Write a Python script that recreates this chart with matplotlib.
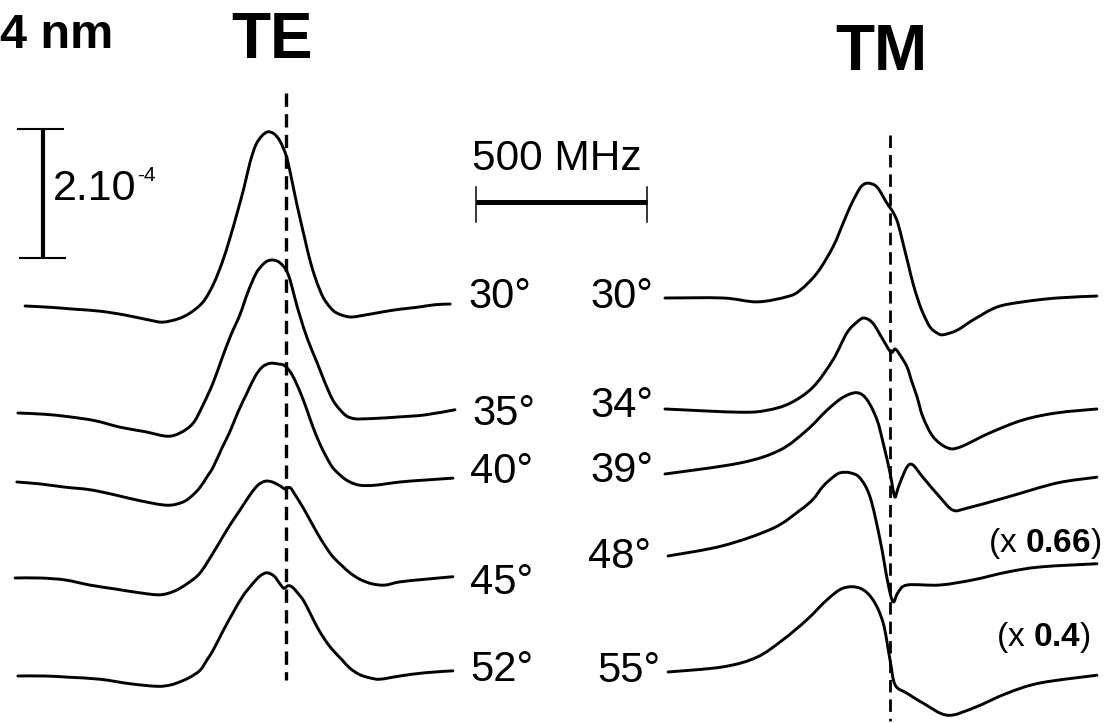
import matplotlib
matplotlib.use("Agg")
import matplotlib.pyplot as plt
from matplotlib.transforms import Affine2D
from matplotlib.path import Path
from matplotlib.patches import PathPatch

plt.rcParams["font.family"] = ["Liberation Sans", "DejaVu Sans"]
plt.rcParams["mathtext.fontset"] = "custom"
plt.rcParams["mathtext.rm"] = "Liberation Sans"
plt.rcParams["mathtext.bf"] = "Liberation Sans:bold"

# ---------------- data: detuning (MHz) vs signal (units of 1e-4) ----------------
# TE polarisation
te_30_f = [-763, -690, -617, -544, -471, -398, -360, -316, -281, -243,
           -213, -187, -164, -143, -123, -105, -88, -70, -53, -35,
           -18, 0, 12, 26, 41, 56, 70, 88, 108, 129,
           149, 187, 231, 284, 333, 383, 436, 480]
te_30_s = [0, -0.02, -0.05, -0.08, -0.14, -0.22, -0.25, -0.20, -0.11, 0.06,
           0.33, 0.67, 1.05, 1.44, 1.83, 2.23, 2.50, 2.64, 2.70, 2.67,
           2.56, 2.34, 2.08, 1.72, 1.36, 1.02, 0.71, 0.40, 0.14, -0.02,
           -0.11, -0.17, -0.14, -0.09, -0.05, -0.02, 0.02, 0.03]

te_35_f = [-784, -705, -632, -558, -485, -412, -348, -310, -272, -243,
           -213, -187, -161, -135, -111, -88, -70, -53, -35, -18,
           0, 12, 26, 41, 64, 91, 114, 137, 158, 178,
           202, 231, 275, 333, 406, 494]
te_35_s = [0, -0.02, -0.06, -0.12, -0.22, -0.29, -0.36, -0.31, -0.16, 0.12,
           0.47, 0.85, 1.21, 1.52, 1.88, 2.16, 2.29, 2.36, 2.37, 2.33,
           2.22, 2.06, 1.78, 1.50, 1.13, 0.78, 0.47, 0.20, 0.05, -0.05,
           -0.09, -0.09, -0.08, -0.06, -0.03, 0.05]

te_40_f = [-787, -719, -646, -573, -500, -427, -348, -301, -272, -251,
           -231, -213, -187, -164, -140, -114, -91, -70, -47, -23,
           -3, 18, 41, 61, 79, 99, 120, 137, 164, 187,
           216, 260, 333, 406, 488]
te_40_s = [0, -0.03, -0.08, -0.12, -0.20, -0.29, -0.36, -0.31, -0.20, -0.08,
           0.08, 0.23, 0.53, 0.78, 1.09, 1.38, 1.63, 1.78, 1.84, 1.83,
           1.80, 1.66, 1.40, 1.12, 0.85, 0.59, 0.37, 0.22, 0.08, 0.00,
           -0.05, -0.05, 0.00, 0.03, 0.06]

te_45_f = [-792, -719, -646, -573, -500, -427, -368, -325, -287, -251,
           -213, -187, -164, -135, -105, -82, -61, -41, -18, -3,
           12, 29, 50, 70, 91, 114, 137, 164, 187, 216,
           251, 289, 333, 406, 488]
te_45_s = [0, 0, -0.03, -0.11, -0.17, -0.23, -0.26, -0.20, -0.08, 0.08,
           0.39, 0.62, 0.82, 1.05, 1.29, 1.44, 1.50, 1.49, 1.43, 1.38,
           1.40, 1.27, 1.09, 0.90, 0.70, 0.50, 0.33, 0.19, 0.08, -0.02,
           -0.09, -0.11, -0.06, -0.02, 0.02]

te_52_f = [-784, -705, -632, -544, -456, -377, -339, -310, -281, -251,
           -231, -213, -184, -155, -126, -96, -76, -56, -35, -18,
           -6, 6, 18, 32, 50, 70, 91, 114, 137, 164,
           187, 216, 246, 275, 333, 406, 488]
te_52_s = [0, 0, -0.02, -0.05, -0.12, -0.16, -0.14, -0.09, -0.02, 0.09,
           0.25, 0.40, 0.70, 0.98, 1.24, 1.44, 1.55, 1.60, 1.55, 1.43,
           1.36, 1.40, 1.38, 1.30, 1.18, 0.98, 0.76, 0.56, 0.40, 0.25,
           0.12, 0.02, -0.03, -0.05, 0, 0.05, 0.08]

# TM polarisation
tm_30_f = [-658, -488, -389, -301, -263, -213, -167, -137, -117, -96,
           -82, -64, -38, -9, 9, 23, 38, 53, 67, 82,
           96, 117, 137, 155, 196, 243, 313, 389, 488, 605]
tm_30_s = [0, 0, -0.06, 0.02, 0.12, 0.39, 0.79, 1.16, 1.41, 1.63,
           1.74, 1.78, 1.72, 1.47, 1.33, 1.16, 0.85, 0.53, 0.23, -0.03,
           -0.23, -0.45, -0.54, -0.57, -0.50, -0.34, -0.14, -0.06, 0, 0.03]

tm_34_f = [-658, -439, -360, -292, -225, -167, -126, -96, -76, -50,
           -20, 3, 15, 29, 50, 64, 79, 96, 126, 167,
           205, 292, 389, 488, 605]
tm_34_s = [0, -0.05, -0.02, 0.09, 0.34, 0.76, 1.18, 1.35, 1.41, 1.33,
           1.07, 0.88, 0.93, 0.84, 0.65, 0.42, 0.19, -0.12, -0.43, -0.60,
           -0.59, -0.37, -0.17, -0.06, 0]

tm_39_f = [-658, -439, -322, -243, -184, -137, -96, -67, -38, -20,
           0, 9, 15, 20, 29, 50, 67, 96, 146, 184,
           225, 342, 488, 605]
tm_39_s = [0, 0.17, 0.37, 0.68, 0.99, 1.19, 1.26, 1.15, 0.84, 0.48,
           0.02, -0.25, -0.36, -0.28, -0.14, 0.11, 0.14, -0.05, -0.36, -0.56,
           -0.53, -0.36, -0.14, -0.05]

tm_48_f = [-649, -488, -342, -263, -225, -196, -167, -146, -117, -88,
           -58, -29, -6, 9, 23, 50, 146, 243, 342, 439, 605]
tm_48_s = [0, 0.16, 0.43, 0.71, 0.88, 1.08, 1.22, 1.29, 1.29, 1.21,
           0.91, 0.25, -0.42, -0.71, -0.57, -0.45, -0.45, -0.37, -0.25, -0.17, -0.12]

tm_55_f = [-649, -488, -389, -313, -243, -184, -137, -88, -50, -20,
           0, 15, 50, 96, 167, 243, 342, 439, 605]
tm_55_s = [0, 0.08, 0.23, 0.50, 0.81, 1.12, 1.30, 1.30, 1.12, 0.76,
           0.19, -0.20, -0.33, -0.48, -0.67, -0.56, -0.33, -0.17, -0.05]

te_angles = ["30°", "35°", "40°", "45°", "52°"]
tm_angles = ["30°", "34°", "39°", "48°", "55°"]
te_traces = [(te_30_f, te_30_s), (te_35_f, te_35_s), (te_40_f, te_40_s),
             (te_45_f, te_45_s), (te_52_f, te_52_s)]
tm_traces = [(tm_30_f, tm_30_s), (tm_34_f, tm_34_s), (tm_39_f, tm_39_s),
             (tm_48_f, tm_48_s), (tm_55_f, tm_55_s)]

# ---------------- layout (canvas pixels) ----------------
W, H = 1106, 723
PX_PER_MHZ = 171 / 500.0      # 500 MHz scale bar = 171 px
PX_PER_UNIT = 64.5            # 1e-4 signal = 64.5 px
TE_X0, TM_X0 = 286, 890       # resonance position (dashed lines)
te_base = [306, 413, 482, 578, 676]
tm_base = [298, 409, 474, 556, 672]
te_lab = [(468, 308), (472, 425), (470, 483), (470, 594), (470, 681)]
tm_lab = [(590, 308), (590, 417), (590, 482), (588, 568), (597, 682)]

fig = plt.figure(figsize=(W / 100, H / 100), dpi=100)
ax = fig.add_axes([0, 0, 1, 1])
ax.set_xlim(0, W)
ax.set_ylim(H, 0)
ax.axis("off")


def trace_transform(x0, y0):
    """Map (MHz, 1e-4 units) to canvas pixels with origin at (x0, y0)."""
    return Affine2D().scale(PX_PER_MHZ, -PX_PER_UNIT).translate(x0, y0) + ax.transData


def smooth_path(xs, ys):
    """Catmull-Rom curve through the given points, as cubic Bezier segments."""
    pts = list(zip(xs, ys))
    n = len(pts)
    verts = [pts[0]]
    codes = [Path.MOVETO]
    for i in range(n - 1):
        p0 = pts[max(i - 1, 0)]
        p1 = pts[i]
        p2 = pts[i + 1]
        p3 = pts[min(i + 2, n - 1)]
        c1 = (p1[0] + (p2[0] - p0[0]) / 6.0, p1[1] + (p2[1] - p0[1]) / 6.0)
        c2 = (p2[0] - (p3[0] - p1[0]) / 6.0, p2[1] - (p3[1] - p1[1]) / 6.0)
        verts += [c1, c2, p2]
        codes += [Path.CURVE4] * 3
    return Path(verts, codes)


LW = 2.1


def draw_trace(f, s, x0, y0):
    patch = PathPatch(smooth_path(f, s), facecolor="none", edgecolor="black",
                      lw=LW, joinstyle="round", capstyle="round",
                      transform=trace_transform(x0, y0))
    ax.add_patch(patch)


for (f, s), yb in zip(te_traces, te_base):
    draw_trace(f, s, TE_X0, yb)
for (f, s), yb in zip(tm_traces, tm_base):
    draw_trace(f, s, TM_X0, yb)

# resonance markers
ax.plot([TE_X0, TE_X0], [93, 680], color="black", lw=2.4, ls=(0, (4.0, 2.2)))
ax.plot([TM_X0, TM_X0], [135, 721], color="black", lw=2.0, ls=(0, (4.5, 2.5)))

# angle labels
LAB_FS = 30
for txt, (x, y) in zip(te_angles, te_lab):
    ax.text(x, y, txt, fontsize=LAB_FS, ha="left", va="baseline")
for txt, (x, y) in zip(tm_angles, tm_lab):
    ax.text(x, y, txt, fontsize=LAB_FS, ha="left", va="baseline")

# scale factors for the attenuated traces
ax.text(1101, 552, r"(x $\mathbf{0.66}$)", fontsize=24, ha="right", va="baseline")
ax.text(1091, 646, r"(x $\mathbf{0.4}$)", fontsize=24, ha="right", va="baseline")

# titles
ax.text(231, 58, "TE", fontsize=46, fontweight="bold", ha="left", va="baseline")
ax.text(835, 70, "TM", fontsize=46, fontweight="bold", ha="left", va="baseline")
ax.text(113, 48, "4 nm", fontsize=35, fontweight="bold", ha="right", va="baseline")

# vertical scale bar: 2e-4
vbar = trace_transform(43, 258)
ax.plot([0, 0], [0, 2], color="black", lw=3.0, transform=vbar, solid_capstyle="butt")
ax.plot([18, 63], [129, 129], color="black", lw=1.5)
ax.plot([20, 65], [258, 258], color="black", lw=1.5)
ax.text(53, 200, "2.10", fontsize=31, ha="left", va="baseline")
ax.text(137, 181, "-4", fontsize=15, ha="left", va="baseline")

# horizontal scale bar: 500 MHz
hbar = trace_transform(476, 202)
ax.plot([0, 500], [0, 0], color="black", lw=3.6, transform=hbar, solid_capstyle="butt")
ax.plot([476, 476], [187, 222], color="black", lw=1.1)
ax.plot([647, 647], [187, 222], color="black", lw=1.1)
ax.text(472, 170, "500 MHz", fontsize=30.5, ha="left", va="baseline")

fig.savefig("out.png", dpi=100, facecolor="white")
